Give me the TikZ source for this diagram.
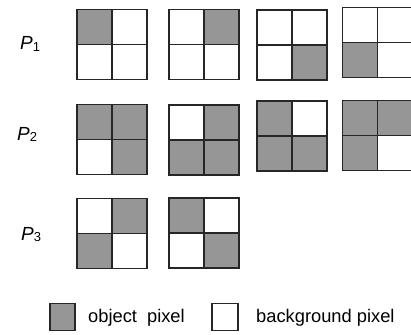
\documentclass[tikz,border=0pt]{standalone}
\usepackage{fontspec}
\setmainfont{Liberation Sans}
\definecolor{objgray}{HTML}{969696}
\definecolor{edgegray}{HTML}{262626}
\tikzset{
  pix/.style={draw=edgegray,line width=1.7pt},
  obj/.style={pix,fill=objgray},
  bg/.style={pix,fill=white},
  lbl/.style={anchor=base west,inner sep=0pt,font=\fontsize{19}{22}\selectfont},
  leg/.style={anchor=west,inner sep=0pt,font=\fontsize{18.3}{21}\selectfont}
}
% #1,#2 = top-left corner; #3..#6 = TL TR BL BR style
\newcommand\pixgrid[6]{%
  \path[#3] (#1,#2) rectangle ++(35,35);
  \path[#4] (#1+35,#2) rectangle ++(35,35);
  \path[#5] (#1,#2+35) rectangle ++(35,35);
  \path[#6] (#1+35,#2+35) rectangle ++(35,35);
}
\newcommand\plabel[1]{\textit{P}\raisebox{-0.1em}{\fontsize{13}{14}\selectfont #1}}
\begin{document}
\begin{tikzpicture}[x=1pt,y=-1pt]
\useasboundingbox (0,0) rectangle (411,334);
\begin{scope}
\clip (0,0) rectangle (411,334);
% row 1
\pixgrid{77}{9.5}{obj}{bg}{bg}{bg}
\pixgrid{169}{9.5}{bg}{obj}{bg}{bg}
\pixgrid{257}{10}{bg}{bg}{bg}{obj}
\pixgrid{342.5}{7.5}{bg}{bg}{obj}{bg}
% row 2
\pixgrid{77}{104.5}{obj}{obj}{bg}{obj}
\pixgrid{169}{105}{bg}{obj}{obj}{obj}
\pixgrid{257}{101}{obj}{bg}{obj}{obj}
\pixgrid{342.5}{100.5}{obj}{obj}{obj}{bg}
% row 3
\pixgrid{77}{198.5}{bg}{obj}{obj}{bg}
\pixgrid{169}{198}{obj}{bg}{bg}{obj}
\end{scope}
% labels
\node[lbl] (p1) at (20,50) {\plabel{1}};
\node[lbl] (p2) at (17,140) {\plabel{2}};
\node[lbl] (p3) at (21,240) {\plabel{3}};
% legend
\path[obj] (50,303.5) rectangle (75,330.5);
\node[leg] (objtxt) at (88,318) {object\hspace{0.55em}pixel};
\path[bg] (212,303.5) rectangle (238,330.5);
\node[leg] (bgtxt) at (256,318) {background pixel};
\end{tikzpicture}
\end{document}
